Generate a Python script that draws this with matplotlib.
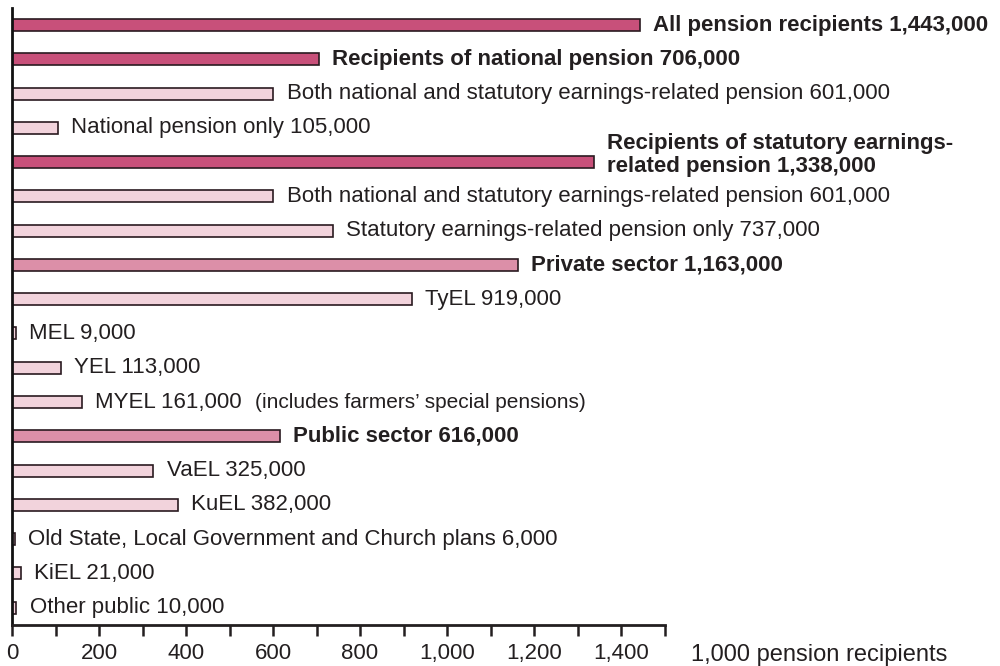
import matplotlib.pyplot as plt
from matplotlib.ticker import MultipleLocator, FuncFormatter

plt.rcParams['font.family'] = ['Liberation Sans', 'DejaVu Sans']

# thousands of pension recipients
labels = [
    'All pension recipients',
    'Recipients of national pension',
    'Both national and statutory earnings-related pension',
    'National pension only',
    'Recipients of statutory earnings-\nrelated pension',
    'Both national and statutory earnings-related pension',
    'Statutory earnings-related pension only',
    'Private sector',
    'TyEL',
    'MEL',
    'YEL',
    'MYEL',
    'Public sector',
    'VaEL',
    'KuEL',
    'Old State, Local Government and Church plans',
    'KiEL',
    'Other public',
]
values = [1443, 706, 601, 105, 1338, 601, 737, 1163, 919, 9, 113, 161,
          616, 325, 382, 6, 21, 10]
levels = ['total', 'total', 'sub', 'sub', 'total', 'sub', 'sub', 'sector',
          'sub', 'sub', 'sub', 'sub', 'sector', 'sub', 'sub', 'sub', 'sub', 'sub']
notes = {11: '(includes farmers\u2019 special pensions)'}

colors = {'total': '#c8507a', 'sector': '#dc8fa8', 'sub': '#f2d3dc'}
text_color = '#231f20'

fig = plt.figure(figsize=(10, 6.66), dpi=100)
ax = fig.add_axes([0.012, 0.062, 0.6525, 0.926])

ys = list(range(len(values)))
ax.barh(ys, values, height=0.35,
        color=[colors[l] for l in levels],
        edgecolor='#2a1a20', linewidth=1.2)

for y, v, lab, lev in zip(ys, values, labels, levels):
    bold = lev != 'sub'
    txt = f'{lab} {v * 1000:,}'
    dy = 5 if '\n' in lab else 0
    ax.annotate(txt, (v, y), xytext=(9.5, dy), textcoords='offset points',
                va='center', ha='left', fontsize=16, color=text_color,
                fontweight='bold' if bold else 'normal',
                linespacing=1.1, annotation_clip=False)
    if y in notes:
        ax.annotate(notes[y], (v, y), xytext=(124.5, 0), textcoords='offset points',
                    va='center', ha='left', fontsize=15, color=text_color,
                    annotation_clip=False)

ax.set_xlim(0, 1500)
ax.set_ylim(len(values) - 0.5, -0.5)
ax.set_yticks([])

ax.xaxis.set_major_locator(MultipleLocator(200))
ax.xaxis.set_minor_locator(MultipleLocator(100))
ax.xaxis.set_major_formatter(FuncFormatter(lambda x, p: f'{int(x):,}' if x < 1500 else ''))
ax.tick_params(axis='x', which='both', length=8, width=1.8, color='#231f20',
               direction='out', labelsize=16, labelcolor=text_color, pad=5)

for s in ['top', 'right']:
    ax.spines[s].set_visible(False)
ax.spines['left'].set_linewidth(2)
ax.spines['bottom'].set_linewidth(2)
ax.spines['left'].set_color('#111111')
ax.spines['bottom'].set_color('#231f20')

fig.text(0.691, 0.0075, '1,000 pension recipients', fontsize=17,
         color=text_color, ha='left', va='baseline')

fig.savefig('out.png', dpi=100)
